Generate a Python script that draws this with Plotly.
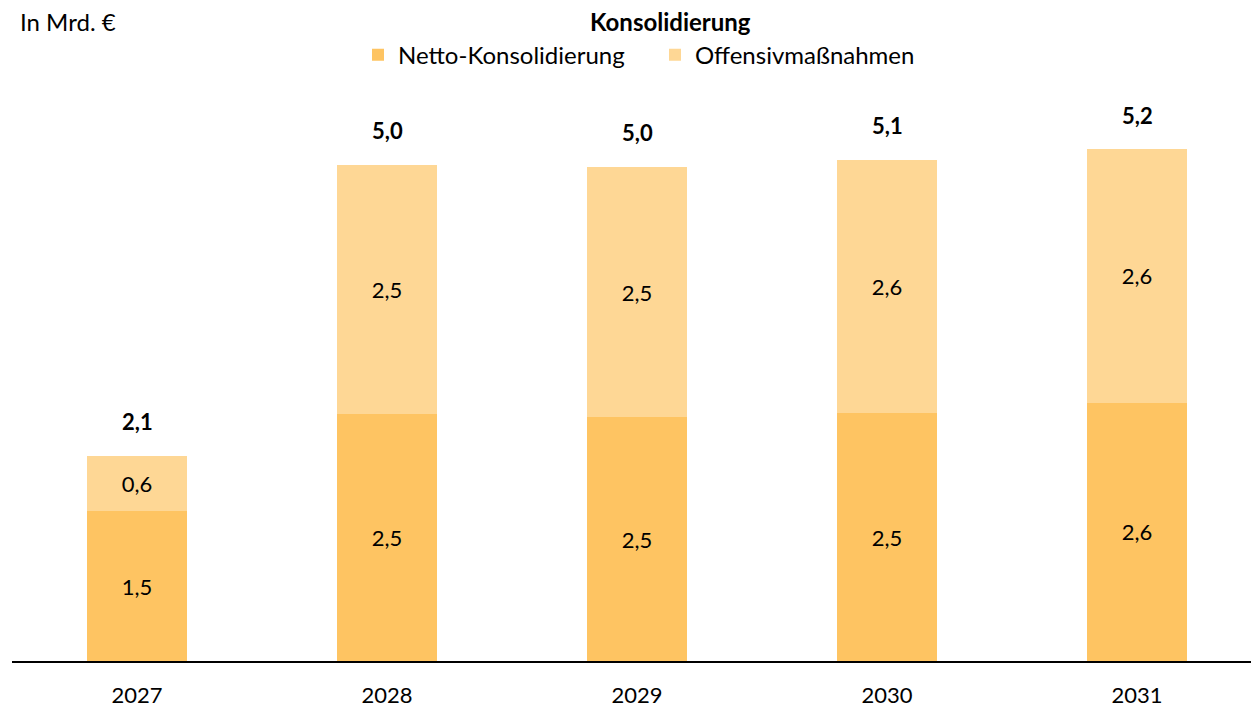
import plotly.graph_objects as go

years = ["2027", "2028", "2029", "2030", "2031"]
netto = [1.52, 2.50, 2.47, 2.51, 2.62]
offensiv = [0.56, 2.53, 2.54, 2.57, 2.57]
totals = [a + b for a, b in zip(netto, offensiv)]

def de(v):
    return f"{v:.1f}".replace(".", ",")

FONT = "Lato"
C_DARK = "#FEC462"
C_LIGHT = "#FED795"
NUM_SIZE = 22
TXT_SIZE = 24

fig = go.Figure()
fig.add_trace(go.Bar(
    x=years, y=netto, name="Netto-Konsolidierung", marker_color=C_DARK,
    marker_line_width=0, width=0.4,
    text=[de(v) for v in netto], textposition="inside", insidetextanchor="middle",
    textfont=dict(size=NUM_SIZE, color="black", family=FONT), constraintext="none",
    hoverinfo="skip",
))
fig.add_trace(go.Bar(
    x=years, y=offensiv, name="Offensivmaßnahmen", marker_color=C_LIGHT,
    marker_line_width=0, width=0.4,
    text=[de(v) for v in offensiv], textposition="inside", insidetextanchor="middle",
    textfont=dict(size=NUM_SIZE, color="black", family=FONT), constraintext="none",
    hoverinfo="skip",
))

W, H = 1251, 708
L, R, T, B = 12, 0, 100, 45
PW, PH = W - L - R, H - T - B

# category positions on the x axis are their serial numbers
annotations = [
    dict(text=f"<b>{de(t)}</b>", x=i, y=t, xref="x", yref="y",
         xanchor="center", yanchor="middle", yshift=34, showarrow=False,
         font=dict(size=NUM_SIZE, family=FONT, color="black"))
    for i, t in enumerate(totals)
]
annotations += [
    dict(text="<b>Konsolidierung</b>", xref="paper", yref="paper",
         x=(670 - L) / PW, y=(H - B - 21) / PH,
         xanchor="center", yanchor="middle", showarrow=False,
         font=dict(size=TXT_SIZE, family=FONT)),
    dict(text="In Mrd. €", xref="paper", yref="paper",
         x=(18 - L) / PW, y=(H - B - 21) / PH,
         xanchor="left", yanchor="middle", showarrow=False,
         font=dict(size=TXT_SIZE, family=FONT)),
]

fig.update_layout(
    width=W, height=H,
    barmode="stack",
    margin=dict(l=L, r=R, t=T, b=B),
    paper_bgcolor="white", plot_bgcolor="white",
    font=dict(family=FONT, size=TXT_SIZE, color="black"),
    showlegend=True,
    legend=dict(
        orientation="h", x=(358 - L) / PW, xanchor="left",
        y=(H - B - 55) / PH, yanchor="middle",
        font=dict(size=TXT_SIZE, family=FONT), entrywidth=252, entrywidthmode="pixels",
        traceorder="normal", bgcolor="rgba(0,0,0,0)",
    ),
    xaxis=dict(
        type="category", range=[-0.5, -0.5 + PW / 250],
        showline=True, linecolor="black", linewidth=2, ticks="",
        showgrid=False, tickfont=dict(size=NUM_SIZE, family=FONT), ticklabelstandoff=14,
        fixedrange=True,
    ),
    yaxis=dict(range=[0, PH / 99], visible=False, showgrid=False, fixedrange=True),
    annotations=annotations,
)

fig.write_html(
    "out.html",
    config={"displayModeBar": False},
    post_script="document.body.style.margin='0';document.body.style.overflow='hidden';",
)
